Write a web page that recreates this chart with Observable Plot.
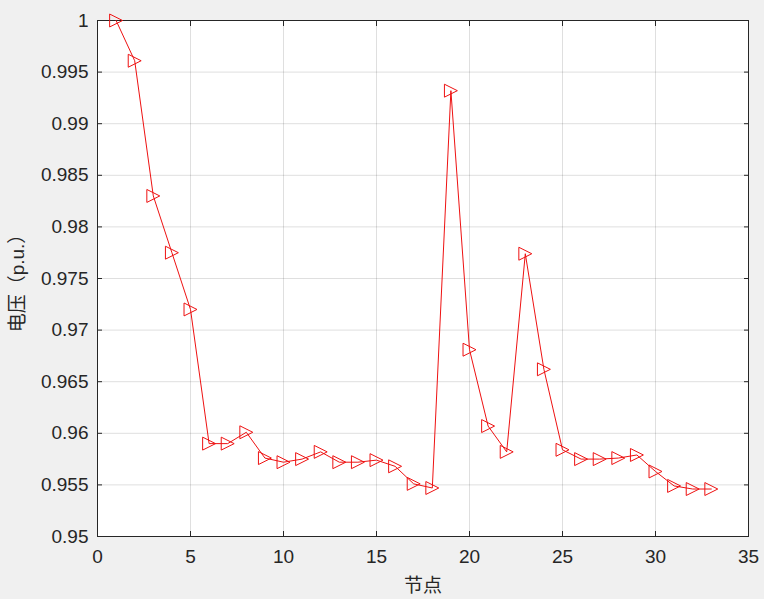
<!DOCTYPE html>
<html>
<head>
<meta charset="utf-8">
<script src="https://cdn.jsdelivr.net/npm/d3@7"></script>
<script src="https://cdn.jsdelivr.net/npm/@observablehq/plot@0.6"></script>
<style>
  html, body { margin: 0; padding: 0; background: #f0f0f0; }
  #chart { width: 764px; height: 599px; }
</style>
</head>
<body>
<div id="chart"></div>
<script>
const nodes = [1,2,3,4,5,6,7,8,9,10,11,12,13,14,15,16,17,18,19,20,21,22,23,24,25,26,27,28,29,30,31,32,33];
const voltages = [1.0000,0.9961,0.9830,0.9775,0.9720,0.9590,0.9590,0.9601,0.9576,0.9572,0.9575,0.9582,0.9572,0.9572,0.9574,0.9568,0.9551,0.9547,0.9932,0.9681,0.9607,0.9582,0.9774,0.9662,0.9584,0.9575,0.9575,0.9576,0.9579,0.9563,0.9549,0.9546,0.9546];
const xTicks = [0,5,10,15,20,25,30,35];
const yTicks = [0.95,0.955,0.96,0.965,0.97,0.975,0.98,0.985,0.99,0.995,1];
const xLabel = "节点";
const yLabel = "电压（p.u.）";

const data = nodes.map((n, i) => ({node: n, v: voltages[i]}));

const rightTriangle = {
  draw(context, size) {
    const h = Math.sqrt(size) / 2;
    context.moveTo(-h, -h);
    context.lineTo(h, 0);
    context.lineTo(-h, h);
    context.closePath();
  }
};

const ink = "#262626";
const red = "#ee1111";
const plot = Plot.plot({
  width: 764,
  height: 599,
  marginLeft: 97,
  marginRight: 16,
  marginTop: 20,
  marginBottom: 63,
  style: {background: "transparent", color: ink, fontFamily: "'Liberation Sans', Arial, 'Noto Sans CJK SC', sans-serif", fontSize: "19px"},
  x: {domain: [0, 35]},
  y: {domain: [0.95, 1]},
  marks: [
    Plot.frame({fill: "white", stroke: null}),
    Plot.gridX(xTicks, {stroke: ink, strokeOpacity: 0.15}),
    Plot.gridY(yTicks, {stroke: ink, strokeOpacity: 0.15}),
    Plot.axisX(xTicks, {anchor: "bottom", tickSize: -5, tickPadding: 18, tickFormat: d => String(d),
      label: xLabel, labelAnchor: "center", labelArrow: "none", labelOffset: 55, fontSize: 19}),
    Plot.axisX(xTicks, {anchor: "top", tickSize: -5, tickFormat: () => "", label: null}),
    Plot.axisY(yTicks, {anchor: "left", tickSize: -5, tickPadding: 14, tickFormat: d => String(d),
      label: yLabel, labelAnchor: "center", labelArrow: "none", labelOffset: 87, fontSize: 19}),
    Plot.axisY(yTicks, {anchor: "right", tickSize: -5, tickFormat: () => "", label: null}),
    Plot.frame({stroke: ink, strokeWidth: 1}),
    Plot.line(data, {x: "node", y: "v", stroke: red, strokeWidth: 1}),
    Plot.dot(data, {x: "node", y: "v", symbol: rightTriangle, r: 7.3, stroke: red, strokeWidth: 1, fill: "none"})
  ]
});
document.getElementById("chart").appendChild(plot);
</script>
</body>
</html>
